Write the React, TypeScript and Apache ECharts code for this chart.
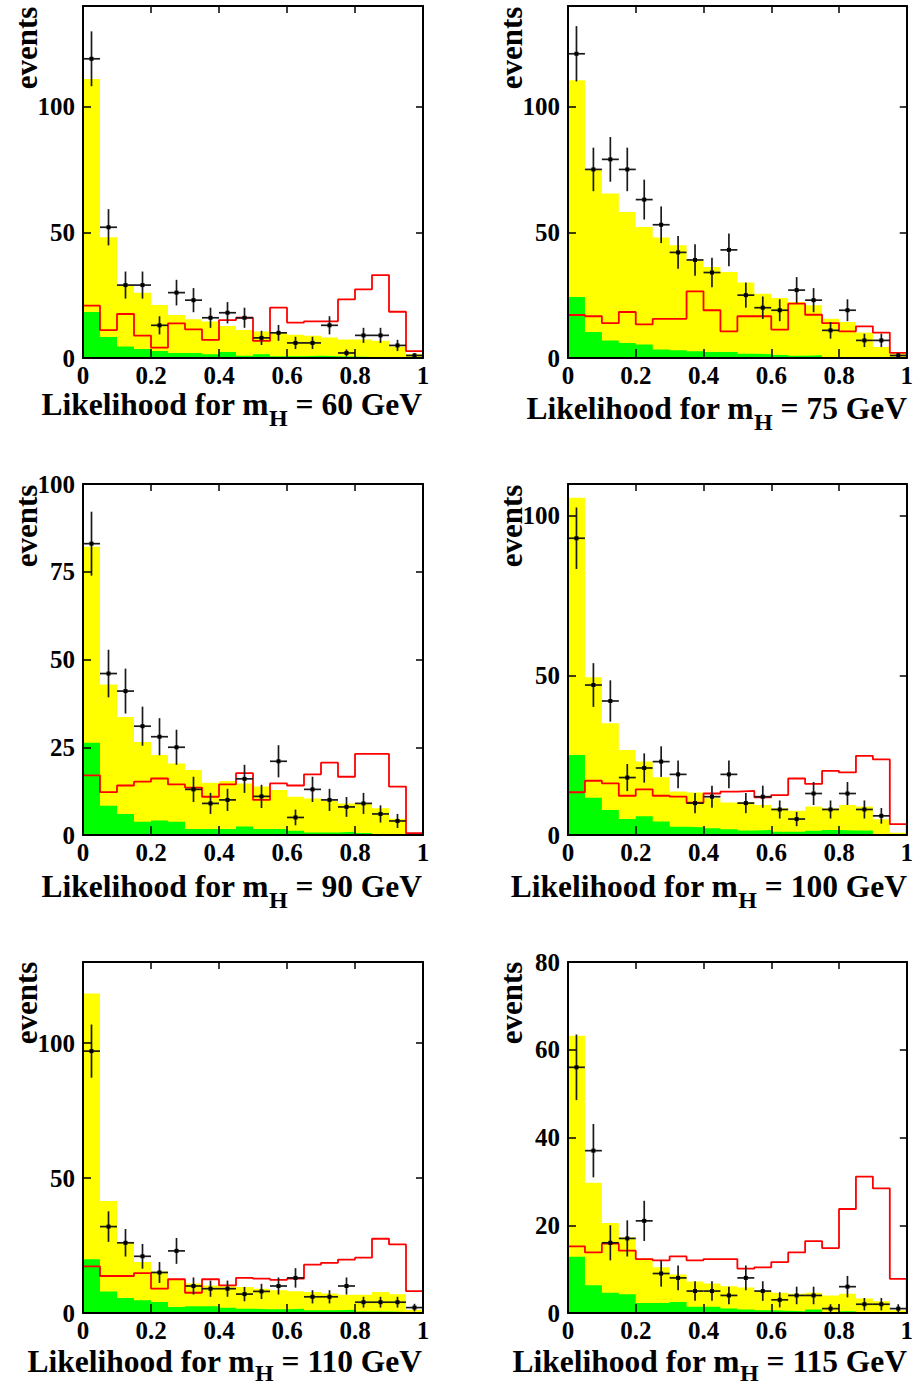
import { useEffect, useRef } from 'react';
import * as echarts from 'echarts';

// ---------------- data ----------------
const BIN_WIDTH = 0.05;
const xTickLabels = ['0', '0.2', '0.4', '0.6', '0.8', '1'];
const masses = [60, 75, 90, 100, 110, 115];
const yMaxes = [140, 140, 100, 110, 130, 80];
const ySteps = [50, 50, 25, 50, 50, 20];

const yellow60 = [111.0, 48.0, 28.6, 26.0, 21.1, 17.1, 15.4, 14.5, 12.7, 11.1, 10.5, 9.8, 9.2, 8.8, 8.2, 7.4, 7.4, 6.9, 4.5, 1.6];
const green60 = [18.3, 8.4, 4.6, 3.6, 2.8, 2.0, 2.0, 1.5, 2.4, 0.9, 1.5, 0.7, 0.7, 0.9, 0.7, 0.6, 0.4, 0.4, 0.2, 0.2];
const red60 = [20.8, 11.1, 17.5, 8.9, 4.1, 13.8, 11.4, 7.2, 15.1, 16.0, 6.8, 20.0, 14.1, 14.6, 14.6, 23.3, 27.3, 33.0, 18.4, 2.7];
const data60 = [119, 52, 29, 29, 13, 26, 23, 16, 18, 16, 8, 10, 6, 6, 13, 2, 9, 9, 5, 1];

const yellow75 = [110.5, 74.9, 65.4, 58.1, 52.1, 47.9, 44.8, 38.9, 36.2, 34.2, 30.0, 25.6, 23.9, 22.3, 21.0, 15.6, 14.3, 10.1, 4.4, 1.7];
const green75 = [24.3, 10.3, 7.0, 6.0, 5.4, 3.4, 3.1, 2.7, 2.4, 2.4, 1.7, 1.5, 1.2, 0.9, 1.1, 0.4, 0.3, 0.3, 0.2, 0.2];
const red75 = [17.1, 16.6, 13.9, 18.3, 13.4, 15.6, 15.6, 26.5, 19.0, 10.6, 16.6, 16.6, 11.3, 21.6, 17.2, 13.9, 10.6, 12.6, 10.1, 2.0];
const data75 = [121, 75, 79, 75, 63, 53, 42, 39, 34, 43, 25, 20, 19, 27, 23, 11, 19, 7, 7, 1];

const yellow90 = [82.1, 42.9, 33.6, 26.5, 22.8, 20.4, 18.5, 14.9, 15.4, 14.7, 13.8, 12.8, 10.9, 10.4, 9.7, 9.0, 9.0, 7.6, 4.6, 0.2];
const green90 = [26.3, 8.3, 6.0, 3.8, 4.1, 3.8, 1.7, 1.7, 1.7, 2.4, 1.7, 1.7, 1.2, 0.7, 0.7, 0.9, 0.6, 0.3, 0, 0];
const red90 = [17.0, 12.2, 14.1, 15.2, 16.1, 14.4, 13.5, 10.9, 14.4, 17.6, 10.0, 14.7, 14.1, 17.3, 20.6, 16.6, 23.1, 23.1, 13.8, 0.5];
const data90 = [83, 46, 41, 31, 28, 25, 13, 9, 10, 16, 11, 21, 5, 13, 10, 8, 9, 6, 4, 0];

const yellow100 = [105.7, 49.4, 35.0, 26.6, 23.0, 18.1, 13.6, 13.3, 11.5, 10.2, 10.2, 9.4, 8.4, 7.6, 8.9, 8.4, 9.4, 8.9, 4.9, 0.7];
const green100 = [25.1, 11.7, 7.8, 5.0, 5.9, 4.2, 2.6, 2.4, 2.1, 1.8, 1.4, 1.6, 1.0, 1.0, 1.3, 1.6, 1.4, 1.4, 0.1, 0];
const red100 = [13.4, 17.0, 16.2, 12.3, 14.3, 12.3, 12.0, 10.1, 13.0, 13.6, 13.8, 11.8, 12.5, 17.7, 16.0, 20.1, 19.6, 24.8, 23.7, 3.4];
const data100 = [93, 47, 42, 18, 21, 23, 19, 10, 12, 19, 10, 12, 8, 5, 13, 8, 13, 8, 6, 0];

const yellow110 = [118.3, 41.5, 26.3, 18.9, 15.4, 12.7, 10.9, 10.2, 9.9, 9.6, 9.0, 8.4, 8.1, 7.8, 7.2, 6.8, 6.8, 7.8, 6.9, 1.2];
const green110 = [19.9, 8.0, 5.6, 4.7, 4.1, 2.2, 2.5, 2.5, 1.9, 1.6, 1.4, 1.4, 1.6, 1.0, 1.0, 1.2, 0.6, 0.6, 0.4, 0.2];
const red110 = [17.3, 13.7, 13.7, 14.8, 9.0, 12.5, 7.5, 12.5, 10.2, 13.0, 12.7, 12.3, 12.7, 17.9, 18.6, 19.8, 20.5, 27.5, 25.4, 8.1];
const data110 = [97, 32, 26, 21, 15, 23, 10, 9, 9, 7, 8, 10, 13, 6, 6, 10, 4, 4, 4, 2];

const yellow115 = [63.2, 29.7, 20.5, 17.2, 12.4, 10.4, 8.8, 7.2, 6.7, 6.1, 5.8, 5.0, 4.6, 4.4, 4.6, 4.0, 4.4, 3.3, 2.7, 0.6];
const green115 = [12.8, 6.3, 4.6, 4.3, 2.3, 2.3, 2.5, 1.4, 1.4, 1.0, 0.8, 0.6, 0.5, 0.4, 0.8, 0.2, 0.4, 0.2, 0.1, 0];
const red115 = [15.2, 13.8, 15.8, 14.2, 12.3, 12.0, 12.9, 12.0, 12.3, 12.3, 10.1, 10.4, 11.6, 13.8, 16.4, 14.8, 23.7, 31.1, 28.4, 7.8];
const data115 = [56, 37, 16, 17, 21, 9, 8, 5, 5, 4, 8, 5, 3, 4, 4, 1, 6, 2, 2, 1];

const yellows = [yellow60, yellow75, yellow90, yellow100, yellow110, yellow115];
const greens = [green60, green75, green90, green100, green110, green115];
const reds = [red60, red75, red90, red100, red110, red115];
const counts = [data60, data75, data90, data100, data110, data115];

// ---------------- layout ----------------
const layouts = [
  { left: 83, top: 6, width: 340, height: 352, titleRight: 422, titleBase: 415, subDrop: 11, evX: 26, evY: 48 },
  { left: 568, top: 6, width: 340, height: 352, titleRight: 907, titleBase: 419, subDrop: 11, evX: 511, evY: 48 },
  { left: 83, top: 484, width: 340, height: 351, titleRight: 422, titleBase: 897, subDrop: 11, evX: 26, evY: 526 },
  { left: 568, top: 484, width: 340, height: 351, titleRight: 907, titleBase: 897, subDrop: 11, evX: 511, evY: 526 },
  { left: 83, top: 962, width: 340, height: 351, titleRight: 422, titleBase: 1372, subDrop: 9, evX: 26, evY: 1003 },
  { left: 568, top: 962, width: 340, height: 351, titleRight: 907, titleBase: 1372, subDrop: 9, evX: 511, evY: 1003 },
];

const FONT = 'Liberation Serif';
const MAIN_SIZE = 31.5;
const SUB_SIZE = 24;

function measure(text: string, size: number) {
  const c = document.createElement('canvas');
  const ctx = c.getContext('2d');
  if (!ctx) return text.length * size * 0.5;
  ctx.font = `bold ${size}px "${FONT}"`;
  return ctx.measureText(text).width;
}

function stepData(vals: number[]) {
  const pts = vals.map((v, i) => [i * BIN_WIDTH, v]);
  pts.push([vals.length * BIN_WIDTH, vals[vals.length - 1]]);
  return pts;
}

function buildOption() {
  const grid: any[] = [];
  const xAxis: any[] = [];
  const yAxis: any[] = [];
  const series: any[] = [];
  const graphic: any[] = [];

  const labelStyle = { color: '#000', fontFamily: FONT, fontWeight: 'bold', fontSize: 25 };

  layouts.forEach((L, k) => {
    grid.push({ left: L.left, top: L.top, width: L.width, height: L.height, show: false, containLabel: false });
    const step = ySteps[k];
    const common = { type: 'value', gridIndex: k, min: 0, z: 10, splitLine: { show: false } };
    xAxis.push({
      ...common, max: 1, interval: 0.2, position: 'bottom',
      axisLine: { show: true, onZero: false, lineStyle: { color: '#000', width: 2 } },
      axisTick: { show: true, inside: true, length: 9, lineStyle: { color: '#000', width: 1.5 } },
      axisLabel: { ...labelStyle, margin: 5, formatter: (v: number) => xTickLabels[Math.round(v / 0.2)] ?? '' },
    });
    xAxis.push({
      ...common, max: 1, interval: 0.2, position: 'top',
      axisLine: { show: true, onZero: false, lineStyle: { color: '#000', width: 2 } },
      axisTick: { show: true, inside: true, length: 7, lineStyle: { color: '#000', width: 1.5 } },
      axisLabel: { show: false },
    });
    yAxis.push({
      ...common, max: yMaxes[k], interval: step, position: 'left',
      axisLine: { show: true, onZero: false, lineStyle: { color: '#000', width: 2 } },
      axisTick: { show: true, inside: true, length: 8, lineStyle: { color: '#000', width: 1.5 } },
      axisLabel: { ...labelStyle, margin: 8, formatter: (v: number) => (v % step === 0 ? String(v) : '') },
    });
    yAxis.push({
      ...common, max: yMaxes[k], interval: step, position: 'right',
      axisLine: { show: true, onZero: false, lineStyle: { color: '#000', width: 2 } },
      axisTick: { show: true, inside: true, length: 7, lineStyle: { color: '#000', width: 1.5 } },
      axisLabel: { show: false },
    });

    const ax = { xAxisIndex: 2 * k, yAxisIndex: 2 * k };
    series.push({
      type: 'line', ...ax, z: 2, step: 'end', symbol: 'none', silent: true,
      data: stepData(yellows[k]),
      lineStyle: { width: 0, opacity: 0 },
      areaStyle: { color: '#ffff00', opacity: 1 },
    });
    series.push({
      type: 'line', ...ax, z: 3, step: 'end', symbol: 'none', silent: true,
      data: stepData(greens[k]),
      lineStyle: { width: 0, opacity: 0 },
      areaStyle: { color: '#00ff00', opacity: 1 },
    });
    series.push({
      type: 'line', ...ax, z: 4, step: 'end', symbol: 'none', silent: true,
      data: [[0, 0], ...stepData(reds[k]), [1, 0]],
      lineStyle: { color: '#ff0000', width: 1.8 },
    });
    series.push({
      type: 'custom', ...ax, z: 6, silent: true,
      data: counts[k].map((c, i) => [(i + 0.5) * BIN_WIDTH, c]),
      encode: { x: 0, y: 1 },
      renderItem: (params: any, api: any) => {
        const x = api.value(0);
        const n = api.value(1);
        if (!n) return null;
        const e = Math.sqrt(n);
        const pL = api.coord([x - BIN_WIDTH / 2, n]);
        const pR = api.coord([x + BIN_WIDTH / 2, n]);
        const pT = api.coord([x, n + e]);
        const pB = api.coord([x, Math.max(0, n - e)]);
        const pC = api.coord([x, n]);
        const st = { stroke: '#1a1a1a', lineWidth: 1.7 };
        return {
          type: 'group',
          children: [
            { type: 'line', shape: { x1: pL[0], y1: pL[1], x2: pR[0], y2: pR[1] }, style: st },
            { type: 'line', shape: { x1: pT[0], y1: pT[1], x2: pB[0], y2: pB[1] }, style: st },
            { type: 'rect', shape: { x: pC[0] - 2, y: pC[1] - 2, width: 4, height: 4 }, style: { fill: '#000' } },
          ],
        };
      },
    });

    // y-axis title
    graphic.push({
      type: 'text', x: L.evX, y: L.evY, rotation: Math.PI / 2,
      style: { text: 'events', fontFamily: FONT, fontWeight: 'bold', fontSize: 31, fill: '#000', align: 'center', verticalAlign: 'middle' },
    });

    // x-axis title with subscript
    const t1 = 'Likelihood for m';
    const t2 = 'H';
    const t3 = ` = ${masses[k]} GeV`;
    const w1 = measure(t1, MAIN_SIZE);
    const w2 = measure(t2, SUB_SIZE);
    const w3 = measure(t3, MAIN_SIZE);
    const x0 = L.titleRight - (w1 + w2 + w3);
    const midMain = L.titleBase - 0.3375 * MAIN_SIZE;
    const midSub = L.titleBase + L.subDrop - 0.3375 * SUB_SIZE;
    const ts = { fontFamily: FONT, fontWeight: 'bold', fill: '#000', align: 'left', verticalAlign: 'middle' };
    graphic.push({ type: 'text', x: x0, y: midMain, style: { ...ts, text: t1, fontSize: MAIN_SIZE } });
    graphic.push({ type: 'text', x: x0 + w1, y: midSub, style: { ...ts, text: t2, fontSize: SUB_SIZE } });
    graphic.push({ type: 'text', x: x0 + w1 + w2, y: midMain, style: { ...ts, text: t3, fontSize: MAIN_SIZE } });
  });

  return { animation: false, backgroundColor: '#fff', grid, xAxis, yAxis, series, graphic };
}

export default function App() {
  const ref = useRef<HTMLDivElement>(null);
  useEffect(() => {
    if (!ref.current) return;
    const chart = echarts.init(ref.current, null, { renderer: 'svg' });
    chart.setOption(buildOption() as any);
    return () => chart.dispose();
  }, []);
  return <div ref={ref} style={{ position: 'absolute', left: 0, top: 0, width: 916, height: 1387 }} />;
}
